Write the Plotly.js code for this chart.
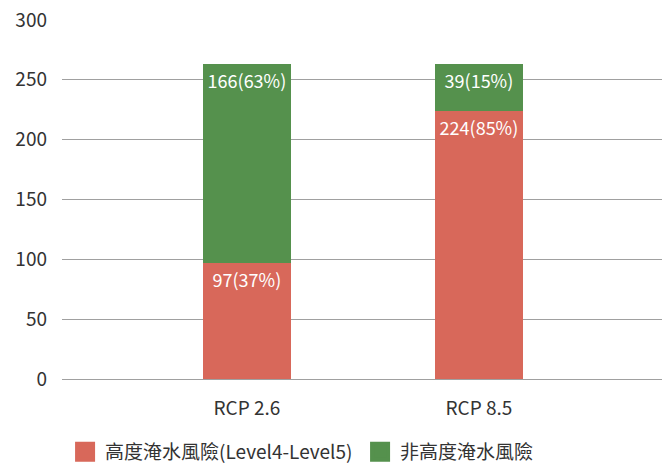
<!DOCTYPE html>
<html>
<head>
<meta charset="utf-8">
<script src="https://cdn.plot.ly/plotly-3.0.1.min.js"></script>
<style>html,body{margin:0;padding:0;background:#fff;}#chart{width:664px;height:464px;}</style>
</head>
<body>
<div id="chart"></div>
<script>
const categories = ["RCP 2.6", "RCP 8.5"];
const highRisk = [97, 224];
const highRiskLabels = ["97(37%)", "224(85%)"];
const nonHighRisk = [166, 39];
const nonHighRiskLabels = ["166(63%)", "39(15%)"];
const seriesNames = ["高度淹水風險(Level4-Level5)", "非高度淹水風險"];
const seriesColors = ["#D8685A", "#55914D"];
const yTicks = [0, 50, 100, 150, 200, 250, 300];

const FONT = '"Noto Sans CJK TC", "Noto Sans", sans-serif';

const common = {
  type: 'bar',
  x: categories,
  width: 0.38,
  textposition: 'inside',
  insidetextanchor: 'end',
  textangle: 0,
  constraintext: 'none',
  insidetextfont: {color: '#ffffff', size: 18, family: FONT},
  hoverinfo: 'none',
  showlegend: false
};

const data = [
  Object.assign({}, common, {
    y: highRisk, text: highRiskLabels, name: seriesNames[0],
    marker: {color: seriesColors[0]}
  }),
  Object.assign({}, common, {
    y: nonHighRisk, text: nonHighRiskLabels, name: seriesNames[1],
    marker: {color: seriesColors[1]}
  }),
  // legend entries with larger square swatches
  {type: 'scatter', mode: 'markers', x: [null], y: [null], name: seriesNames[0],
   marker: {symbol: 'square', size: 16, color: seriesColors[0], line: {color: seriesColors[0], width: 4}}, hoverinfo: 'none'},
  {type: 'scatter', mode: 'markers', x: [null], y: [null], name: seriesNames[1],
   marker: {symbol: 'square', size: 16, color: seriesColors[1], line: {color: seriesColors[1], width: 4}}, hoverinfo: 'none'}
];

const layout = {
  width: 664, height: 464,
  margin: {l: 62, r: 2, t: 20, b: 85, autoexpand: false},
  barmode: 'stack',
  paper_bgcolor: '#ffffff',
  plot_bgcolor: '#ffffff',
  font: {family: FONT, size: 19, color: '#333333'},
  showlegend: true,
  legend: {
    orientation: 'h',
    xref: 'container', x: 0.098, xanchor: 'left',
    yref: 'container', y: 0.026, yanchor: 'middle',
    font: {size: 19, color: '#333333', family: FONT},
    itemwidth: 30, entrywidth: 250, traceorder: 'normal', itemsizing: 'trace'
  },
  xaxis: {
    range: [-0.797, 1.789],
    showgrid: false, zeroline: false, showline: false,
    ticks: '', ticklabelstandoff: 16, tickfont: {size: 19, color: '#333333'}
  },
  yaxis: {
    range: [0, 300],
    tickvals: yTicks,
    ticktext: yTicks.map(String),
    showgrid: true, gridcolor: '#a0a0a0', gridwidth: 1,
    zeroline: true, zerolinecolor: '#a0a0a0', zerolinewidth: 1,
    showline: false, ticks: '', ticklabelstandoff: 14,
    tickfont: {size: 19, color: '#333333'}
  }
};

Plotly.newPlot('chart', data, layout, {displayModeBar: false, staticPlot: true});
</script>
</body>
</html>
